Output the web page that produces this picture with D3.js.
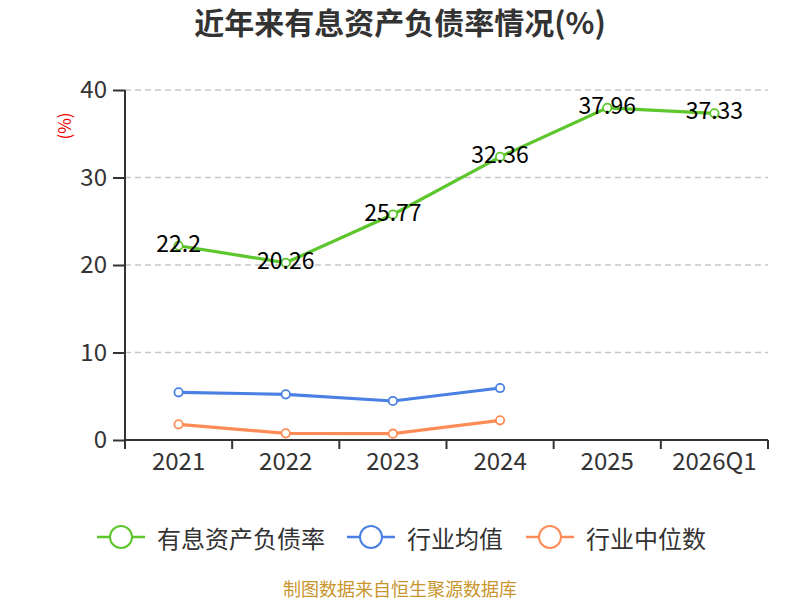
<!DOCTYPE html>
<html><head><meta charset="utf-8">
<script src="https://cdn.jsdelivr.net/npm/d3@7"></script>
<style>body{margin:0;background:#fff;} text{font-family:"Noto Sans CJK SC","Noto Sans",sans-serif;}</style>
</head><body>
<svg id="c" width="800" height="600"></svg>
<script>
const categories = ["2021","2022","2023","2024","2025","2026Q1"];
const debtRatio = [22.2, 20.26, 25.77, 32.36, 37.96, 37.33];
const industryAvg = [5.45, 5.22, 4.46, 5.94];
const industryMedian = [1.79, 0.76, 0.72, 2.25];
const yTicks = [0, 10, 20, 30, 40];
const seriesNames = ["有息资产负债率", "行业均值", "行业中位数"];
const colors = ["#5cc62c", "#4a80e3", "#ff8c57"];

const svg = d3.select("#c");
const m = {l:125, r:768, t:90, b:440};
const x = d3.scaleBand().domain(categories).range([m.l, m.r]);
const y = d3.scaleLinear().domain([0, 40]).range([m.b, m.t]);

svg.append("text").attr("x", 400).attr("y", 34).attr("text-anchor","middle")
  .attr("font-size", 30).attr("font-weight","bold").attr("fill","#333").text("近年来有息资产负债率情况(%)");

// grid
svg.append("g").selectAll("line").data(yTicks.filter(d=>d>0)).join("line")
  .attr("x1", m.l).attr("x2", m.r).attr("y1", d=>y(d)).attr("y2", d=>y(d))
  .attr("stroke","#c8c8c8").attr("stroke-width",1.3).attr("stroke-dasharray","6,4");

// y axis
const ya = svg.append("g").attr("transform",`translate(${m.l},0)`)
  .call(d3.axisLeft(y).tickValues(yTicks).tickSize(12).tickPadding(6));
ya.select(".domain").attr("stroke","#333").attr("stroke-width",2).attr("d", `M0,${m.t}V${m.b}`);
ya.selectAll(".tick line").attr("stroke","#333").attr("stroke-width",2);
ya.selectAll(".tick text").attr("font-size",24).attr("fill","#333").attr("font-family","'Noto Sans',sans-serif");

svg.append("text").attr("transform",`translate(63,126) rotate(-90)`).attr("text-anchor","middle")
  .attr("dominant-baseline","central").attr("font-size",17).attr("fill","#e00").text("(%)");

// x axis
const xa = svg.append("g").attr("transform",`translate(0,${m.b})`)
  .call(d3.axisBottom(x).tickSize(0).tickPadding(13));
xa.select(".domain").attr("stroke","#333").attr("stroke-width",2).attr("d", `M${m.l},0H${m.r}`);
xa.selectAll(".tick text").attr("font-size",24).attr("fill","#333").attr("font-family","'Noto Sans',sans-serif");
const edges = categories.map(c=>x(c)).concat([m.r]);
svg.append("g").selectAll("line").data(edges).join("line")
  .attr("x1",d=>d).attr("x2",d=>d).attr("y1",m.b).attr("y2",m.b+9)
  .attr("stroke","#333").attr("stroke-width",2);

const cx = c => x(c) + x.bandwidth()/2;
const line = d3.line().x(d=>cx(d.c)).y(d=>y(d.v));
const allSeries = [debtRatio, industryAvg, industryMedian];
allSeries.forEach((arr, i) => {
  const pts = arr.map((v, k) => ({c: categories[k], v}));
  svg.append("path").datum(pts).attr("d", line).attr("fill","none")
    .attr("stroke", colors[i]).attr("stroke-width", 3.2);
  svg.append("g").selectAll("circle").data(pts).join("circle")
    .attr("cx", d=>cx(d.c)).attr("cy", d=>y(d.v)).attr("r", 4.2)
    .attr("fill","#fff").attr("stroke", colors[i]).attr("stroke-width", 1.8);
});

// labels
svg.append("g").selectAll("text").data(debtRatio.map((v,k)=>({c:categories[k], v})))
  .join("text").attr("x", d=>cx(d.c)).attr("y", d=>y(d.v)-4)
  .attr("text-anchor","middle").attr("dominant-baseline","central")
  .attr("font-size",23).attr("fill","#000").attr("font-family","'Noto Sans',sans-serif").text(d=>d.v);

// legend
const legX = [97, 347, 526];
seriesNames.forEach((n, i) => {
  const g = svg.append("g").attr("transform",`translate(${legX[i]},537)`);
  g.append("line").attr("x1",0).attr("x2",48).attr("y1",0).attr("y2",0).attr("stroke",colors[i]).attr("stroke-width",2.5);
  g.append("circle").attr("cx",24).attr("cy",0).attr("r",11).attr("fill","#fff").attr("stroke",colors[i]).attr("stroke-width",2);
  g.append("text").attr("x",60).attr("y",0).attr("dominant-baseline","central").attr("font-size",24).attr("fill","#333").text(n);
});

svg.append("text").attr("x",400).attr("y",596).attr("text-anchor","middle")
  .attr("font-size",18).attr("fill","#c8952c").text("制图数据来自恒生聚源数据库");
</script>
</body></html>
